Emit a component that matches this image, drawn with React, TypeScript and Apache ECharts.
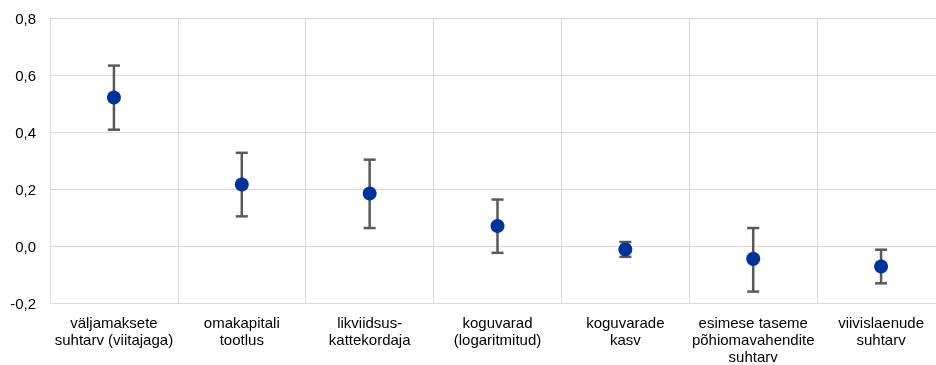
import React, { useEffect, useRef } from "react";
import * as echarts from "echarts";

const categories = [
  "väljamaksete\nsuhtarv (viitajaga)",
  "omakapitali\ntootlus",
  "likviidsus-\nkattekordaja",
  "koguvarad\n(logaritmitud)",
  "koguvarade\nkasv",
  "esimese taseme\npõhiomavahendite\nsuhtarv",
  "viivislaenude\nsuhtarv",
];
const estimates = [0.521, 0.216, 0.184, 0.07, -0.012, -0.045, -0.072];
const lowerBounds = [0.408, 0.104, 0.063, -0.024, -0.038, -0.16, -0.131];
const upperBounds = [0.633, 0.327, 0.303, 0.163, 0.014, 0.063, -0.013];

const FONT = "'Liberation Sans', Arial, sans-serif";

export default function App() {
  const ref = useRef<HTMLDivElement>(null);
  useEffect(() => {
    if (!ref.current) return;
    const chart = echarts.init(ref.current, undefined, { renderer: "svg" });
    const errData = categories.map((_, i) => [i, lowerBounds[i], upperBounds[i]]);
    chart.setOption({
      animation: false,
      grid: { left: 50, right: 1, top: 18, bottom: 59, containLabel: false },
      xAxis: {
        type: "category",
        data: categories,
        boundaryGap: true,
        axisLine: { show: true, lineStyle: { color: "#d9d9d9", width: 1 } },
        axisTick: { show: false },
        splitLine: { show: true, lineStyle: { color: "#d9d9d9", width: 1 } },
        axisLabel: {
          interval: 0,
          color: "#000",
          fontFamily: FONT,
          fontSize: 15,
          lineHeight: 17,
          margin: 11,
        },
      },
      yAxis: {
        type: "value",
        min: -0.2,
        max: 0.8,
        interval: 0.2,
        axisLine: { show: false },
        axisTick: { show: false },
        splitLine: { show: true, lineStyle: { color: "#d9d9d9", width: 1 } },
        axisLabel: {
          color: "#000",
          fontFamily: FONT,
          fontSize: 15,
          margin: 14,
          formatter: (v: number) => (Math.abs(v) < 1e-9 ? 0 : v).toFixed(1).replace(".", ","),
        },
      },
      series: [
        {
          type: "custom",
          data: errData,
          z: 2,
          renderItem: (params: any, api: any) => {
            const x = api.value(0);
            const lo = api.coord([x, api.value(1)]);
            const hi = api.coord([x, api.value(2)]);
            const hw = 6;
            const style = { stroke: "#595959", lineWidth: 2.5, fill: "none" };
            return {
              type: "group",
              children: [
                { type: "line", shape: { x1: lo[0], y1: lo[1], x2: hi[0], y2: hi[1] }, style },
                { type: "line", shape: { x1: hi[0] - hw, y1: hi[1], x2: hi[0] + hw, y2: hi[1] }, style },
                { type: "line", shape: { x1: lo[0] - hw, y1: lo[1], x2: lo[0] + hw, y2: lo[1] }, style },
              ],
            };
          },
        },
        {
          type: "scatter",
          data: estimates,
          z: 3,
          symbol: "circle",
          symbolSize: 14,
          itemStyle: { color: "#003399", opacity: 1 },
        },
      ],
    });
    return () => chart.dispose();
  }, []);
  return (
    <div style={{ position: "fixed", left: 0, top: 0, width: 936, height: 365, overflow: "hidden" }}>
      <div ref={ref} style={{ width: 946, height: 365 }} />
    </div>
  );
}
